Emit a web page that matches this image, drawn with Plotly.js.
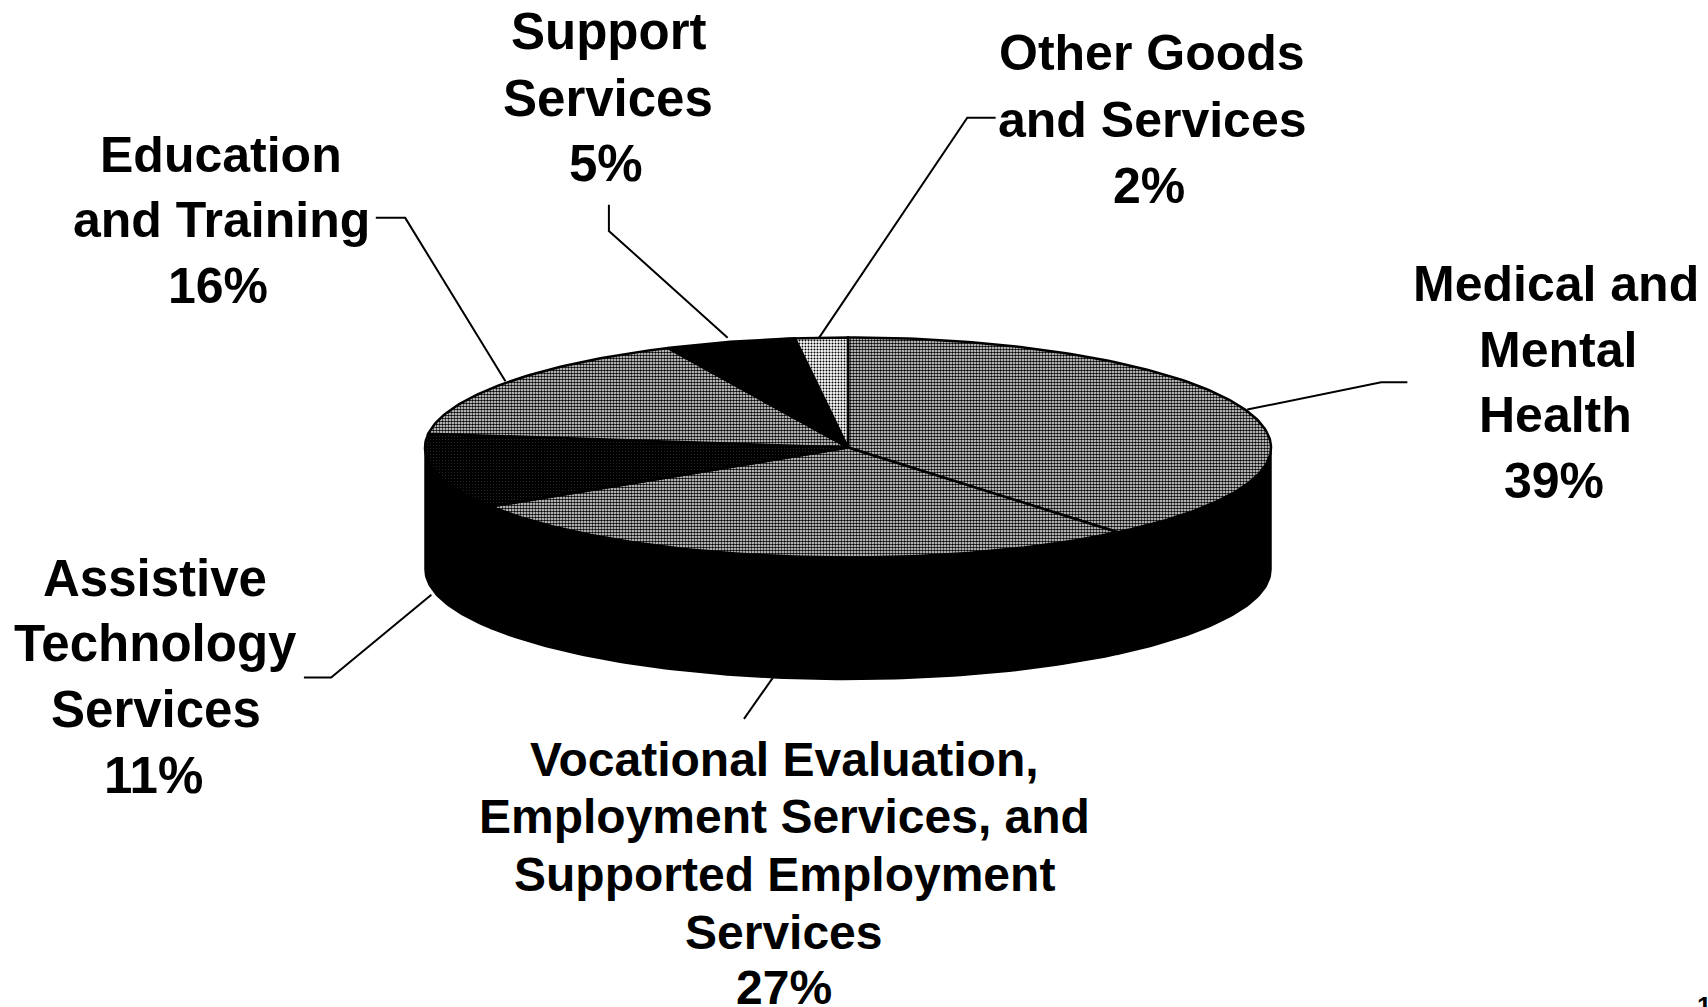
<!DOCTYPE html>
<html>
<head>
<meta charset="utf-8">
<script src="https://cdn.plot.ly/plotly-3.0.1.min.js"></script>
<style>html,body{margin:0;padding:0;background:#fff;overflow:hidden}#chart{width:1708px;height:1007px}</style>
</head>
<body>
<div id="chart"></div>
<script>
// Data (clockwise from 12 o'clock)
const categories = ["Medical and Mental Health","Vocational Evaluation, Employment Services, and Supported Employment Services","Assistive Technology Services","Education and Training","Support Services","Other Goods and Services"];
const percentages = [39,27,11,16,5,2];

// Label text, line by line, same order as categories
const labelLines = [
  ["Medical and","Mental","Health","39%"],
  ["Vocational Evaluation,","Employment Services, and","Supported Employment","Services","27%"],
  ["Assistive","Technology","Services","11%"],
  ["Education","and Training","16%"],
  ["Support","Services","5%"],
  ["Other Goods","and Services","2%"]
];

// Layout only: positions measured in the 1568-wide view
const K = 1708/1568;
const labelX = [[1428,1430,1428,1427],[720,720,720,720,720],[142,143,143,141],[203,203,200],[559,558,556],[1058,1058,1055]];
const labelY = [[261,321,381,442],[697,750,803,856,907],[531,591,651,712],[142,202,263],[29,90,150],[49,110,171]];
const labelSize = [50,48,51,50,51,50];
const leaders = [
  [[1145,376],[1268,351],[1292,351]],
  [[711,620],[683,660]],
  [[396,546],[304,622],[279,622]],
  [[464,350],[372,200],[345,200]],
  [[668,310],[559,212],[559,188]],
  [[752,310],[888,108],[914,108]]
];
const CX=848, CY=447.5, RX=423, RY=110, DEPTH=122;
const midGrey={shape:'.',size:3,solidity:0.6,fgcolor:'#000',bgcolor:'#fff'};
const styles=[
  midGrey,
  midGrey,
  {shape:'.',size:3,solidity:0.08,fgcolor:'#444',bgcolor:'#000'},
  midGrey,
  null,
  {shape:'.',size:3,solidity:0.36,fgcolor:'#000',bgcolor:'#fff'}
];

const total=percentages.reduce((a,b)=>a+b,0);
const rim=(deg,dy=0)=>{const t=deg*Math.PI/180;return [CX+RX*Math.sin(t),CY-RY*Math.cos(t)+dy];};
const traces=[];
let acc=0;
const spans=percentages.map(p=>{const s=[acc,acc+p/total*360];acc=s[1];return s;});

// Side wall: only the front half (90 to 270 degrees) of each slice shows
spans.forEach(([a,b],i)=>{
  const s=Math.max(a,90), e=Math.min(b,270);
  if(e<=s) return;
  const xs=[],ys=[];
  for(let d=s;d<e;d+=1){const p=rim(d);xs.push(p[0]);ys.push(p[1]);}
  let p=rim(e);xs.push(p[0]);ys.push(p[1]);
  for(let d=e;d>s;d-=1){const q=rim(d,DEPTH);xs.push(q[0]);ys.push(q[1]);}
  p=rim(s,DEPTH);xs.push(p[0]);ys.push(p[1]);
  xs.push(xs[0]);ys.push(ys[0]);
  traces.push({type:'scatter',mode:'lines',x:xs,y:ys,fill:'toself',fillcolor:'#000',line:{color:'#000',width:1.5},hoverinfo:'skip',name:categories[i]+' side'});
});

// Top face slices
spans.forEach(([a,b],i)=>{
  const xs=[CX],ys=[CY];
  for(let d=a;d<b;d+=1){const p=rim(d);xs.push(p[0]);ys.push(p[1]);}
  const p=rim(b);xs.push(p[0]);ys.push(p[1]);
  xs.push(CX);ys.push(CY);
  const t={type:'scatter',mode:'lines',x:xs,y:ys,fill:'toself',line:{color:'#000',width:2.5},hoverinfo:'skip',name:categories[i]};
  if(styles[i]) t.fillpattern=styles[i]; else t.fillcolor='#000';
  traces.push(t);
});

const annotations=[];
labelLines.forEach((lines,i)=>lines.forEach((txt,j)=>annotations.push({
  x:labelX[i][j]*K,y:labelY[i][j]*K,xref:'x',yref:'y',text:txt,showarrow:false,
  xanchor:'center',yanchor:'middle',
  font:{family:'Liberation Sans, Arial, sans-serif',size:labelSize[i],color:'#000',weight:700}
})));
annotations.push({x:1704,y:1006,xref:'x',yref:'y',text:'1',showarrow:false,xanchor:'center',yanchor:'middle',font:{family:'Liberation Sans, Arial, sans-serif',size:26,color:'#000',weight:700}});

const shapes=leaders.map(pts=>({
  type:'path',xref:'x',yref:'y',
  path:pts.map((p,i)=>(i?'L':'M')+(p[0]*K)+','+(p[1]*K)).join(' '),
  line:{color:'#000',width:2}
}));

Plotly.newPlot('chart',traces,{
  width:1708,height:1007,margin:{l:0,r:0,t:0,b:0},
  paper_bgcolor:'#fff',plot_bgcolor:'#fff',showlegend:false,hovermode:false,
  xaxis:{range:[0,1708],visible:false,fixedrange:true},
  yaxis:{range:[1007,0],visible:false,fixedrange:true},
  annotations,shapes
},{displayModeBar:false,staticPlot:true});
</script>
</body>
</html>
